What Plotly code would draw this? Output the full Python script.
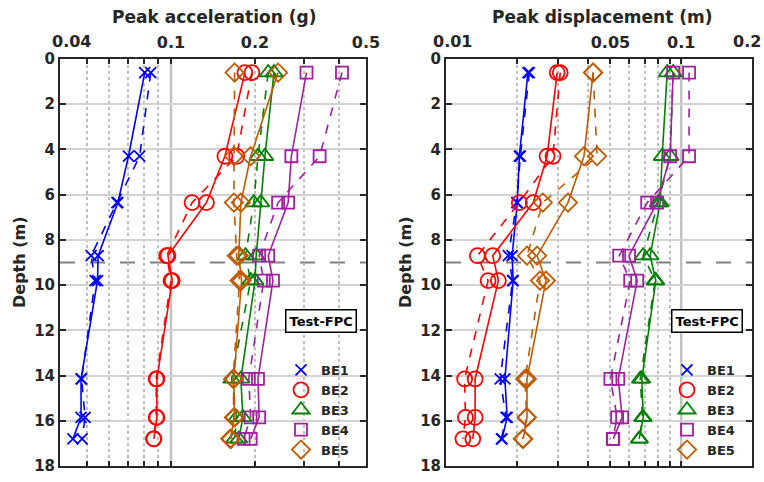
import math
import plotly.graph_objects as go

depth = [0.6, 4.3, 6.35, 8.7, 9.8, 14.15, 15.85, 16.8]
names = ["BE1", "BE2", "BE3", "BE4", "BE5"]

# Peak acceleration (g): solid / dashed for each BE
pga_solid = {
    "BE1": [0.0805, 0.0704, 0.0645, 0.0548, 0.0545, 0.0476, 0.0476, 0.0445],
    "BE2": [0.184, 0.156, 0.134, 0.0975, 0.101, 0.089, 0.089, 0.0868],
    "BE3": [0.234, 0.217, 0.21, 0.202, 0.2, 0.178, 0.181, 0.175],
    "BE4": [0.306, 0.27, 0.263, 0.223, 0.232, 0.205, 0.207, 0.193],
    "BE5": [0.242, 0.193, 0.178, 0.175, 0.179, 0.168, 0.169, 0.163],
}
pga_dashed = {
    "BE1": [0.0846, 0.0772, 0.064, 0.0517, 0.0535, 0.0478, 0.0492, 0.048],
    "BE2": [0.195, 0.172, 0.119, 0.0965, 0.1, 0.0885, 0.0885, 0.0866],
    "BE3": [0.223, 0.205, 0.198, 0.185, 0.193, 0.165, 0.172, 0.169],
    "BE4": [0.41, 0.341, 0.242, 0.207, 0.215, 0.19, 0.193, 0.182],
    "BE5": [0.169, 0.168, 0.168, 0.172, 0.176, 0.167, 0.168, 0.164],
}
# Peak displacement (m)
pgd_solid = {
    "BE1": [0.0223, 0.0205, 0.0201, 0.0191, 0.0193, 0.0178, 0.0182, 0.0173],
    "BE2": [0.0297, 0.0269, 0.0235, 0.0158, 0.0167, 0.0133, 0.0133, 0.013],
    "BE3": [0.0872, 0.083, 0.0814, 0.0738, 0.078, 0.068, 0.069, 0.0663],
    "BE4": [0.0924, 0.0898, 0.079, 0.06, 0.065, 0.054, 0.0561, 0.0514],
    "BE5": [0.0422, 0.0386, 0.033, 0.0244, 0.0266, 0.0221, 0.0221, 0.0213],
}
pgd_dashed = {
    "BE1": [0.0226, 0.0207, 0.0200, 0.0184, 0.0192, 0.0170, 0.0180, 0.0172],
    "BE2": [0.0306, 0.0285, 0.0205, 0.0136, 0.0151, 0.012, 0.0121, 0.0118],
    "BE3": [0.0924, 0.0898, 0.0798, 0.0689, 0.0775, 0.067, 0.0685, 0.0665],
    "BE4": [0.108, 0.108, 0.0717, 0.0545, 0.0607, 0.05, 0.0534, 0.0512],
    "BE5": [0.0422, 0.0439, 0.0258, 0.0221, 0.0251, 0.0217, 0.0220, 0.0212],
}

acc_ticks = [0.04, 0.05, 0.06, 0.07, 0.08, 0.09, 0.1, 0.2, 0.3, 0.4, 0.5]
acc_labels = ["", "", "", "", "", "", "0.1", "0.2", "", "", "0.5"]
disp_ticks = [0.01, 0.02, 0.03, 0.04, 0.05, 0.06, 0.07, 0.08, 0.09, 0.1, 0.2]
disp_labels = ["", "", "", "", "0.05", "", "", "", "", "0.1", ""]
# edge tick labels, drawn slightly inside the frame as in the reference
edge_labels = [("0.04", 71), ("0.01", 452), ("0.2", 747)]
depth_ticks = [0, 2, 4, 6, 8, 10, 12, 14, 16, 18]

colors = {"BE1": "#0000ff", "BE2": "#ff0000", "BE3": "#008000",
          "BE4": "#a020a0", "BE5": "#c05a00"}
symbols = {"BE1": "x-thin-open", "BE2": "circle-open", "BE3": "triangle-up-open",
           "BE4": "square-open", "BE5": "diamond-open"}
msize = {"BE1": 11, "BE2": 15, "BE3": 15, "BE4": 12, "BE5": 14}

FONT = "DejaVu Sans"
DARK = "#262626"

fig = go.Figure()

def add_series(xref, yref, solid, dashed, legend):
    for n in names:
        for data, dash in ((solid, "solid"), (dashed, "dash")):
            fig.add_trace(go.Scatter(
                x=data[n], y=depth, xaxis=xref, yaxis=yref,
                mode="lines+markers", showlegend=False,
                line=dict(color=colors[n], width=1.6, dash=dash),
                marker=dict(symbol=symbols[n], size=msize[n], color=colors[n],
                            line=dict(color=colors[n], width=1.8)),
            ))
    for n in names:
        fig.add_trace(go.Scatter(
            x=[None], y=[None], xaxis=xref, yaxis=yref, mode="markers",
            name=n, legend=legend, showlegend=True,
            marker=dict(symbol=symbols[n], size=msize[n], color=colors[n],
                        line=dict(color=colors[n], width=1.8)),
        ))

add_series("x", "y", pga_solid, pga_dashed, "legend")
add_series("x2", "y2", pgd_solid, pgd_dashed, "legend2")

W, H = 764, 482
xd1 = [60 / W, 366 / W]
xd2 = [446 / W, 752 / W]
yd = [1 - 466 / H, 1 - 59 / H]

def xaxis(dom, rng, tv, tt, anchor):
    return dict(domain=dom, type="log", range=rng, side="top", anchor=anchor,
                tickvals=tv, ticktext=tt, ticks="inside", ticklen=5, tickwidth=1.5,
                tickcolor=DARK, showline=True, linecolor=DARK, linewidth=2,
                mirror="ticks", showgrid=True, gridcolor="#bfbfbf", gridwidth=1.5,
                griddash="dot", zeroline=False, automargin=False,
                ticklabelstandoff=3,
                tickfont=dict(family=FONT, size=16, color=DARK, weight="bold"))

def yaxis(anchor):
    return dict(domain=yd, range=[18, 0], tickvals=depth_ticks, anchor=anchor,
                ticks="inside", ticklen=6, tickwidth=2, tickcolor=DARK,
                showline=True, linecolor=DARK, linewidth=2, mirror="ticks",
                showgrid=True, gridcolor="#d2d2d2", gridwidth=2, zeroline=False,
                automargin=False,
                tickfont=dict(family=FONT, size=15, color=DARK, weight="bold"))

def legend(xpx):
    return dict(x=xpx / W, y=1 - 355 / H, xanchor="left", yanchor="top",
                bgcolor="rgba(0,0,0,0)", borderwidth=0,
                font=dict(family=FONT, size=13, color=DARK, weight="bold"),
                itemwidth=30, tracegroupgap=0)

fig.update_layout(
    width=W, height=H, margin=dict(l=0, r=0, t=0, b=0),
    paper_bgcolor="white", plot_bgcolor="white",
    xaxis=xaxis(xd1, [math.log10(0.04), math.log10(0.5)], acc_ticks, acc_labels, "y"),
    xaxis2=xaxis(xd2, [math.log10(0.01), math.log10(0.2)], disp_ticks, disp_labels, "y2"),
    yaxis=yaxis("x"),
    yaxis2=yaxis("x2"),
    legend=legend(281),
    legend2=legend(667),
)

# solid major gridline at 0.1 and the 9 m dashed reference line
for xr, yr in (("x", "y"), ("x2", "y2")):
    fig.add_shape(type="line", xref=xr, yref=yr + " domain", x0=0.1, x1=0.1, y0=0, y1=1,
                  line=dict(color="#c4c4c4", width=2.5), layer="below")
    fig.add_shape(type="line", xref=xr + " domain", yref=yr, x0=0, x1=1, y0=9, y1=9,
                  line=dict(color="#808080", width=2, dash="longdash"), layer="below")
    fig.add_annotation(xref=xr + " domain", yref=yr, x=0.853, y=11.6, text="Test-FPC",
                       showarrow=False, xanchor="center", yanchor="middle",
                       bgcolor="white", bordercolor="black",
                       borderwidth=1.5, borderpad=3,
                       font=dict(family=FONT, size=13, color="black", weight="bold"))

for txt, px in edge_labels:
    fig.add_annotation(xref="paper", yref="paper", x=px / W, y=1 - 41.5 / H,
                       text=txt, showarrow=False, xanchor="center", yanchor="middle",
                       borderpad=0,
                       font=dict(family=FONT, size=16, color=DARK, weight="bold"))

# axis titles
for cx, txt in ((214, "Peak acceleration (g)"), (602, "Peak displacement (m)")):
    fig.add_annotation(xref="paper", yref="paper", x=cx / W, y=1 - 17 / H,
                       text=txt, showarrow=False, xanchor="center", yanchor="middle",
                       font=dict(family=FONT, size=17, color=DARK, weight="bold"))
for cx in (19, 405):
    fig.add_annotation(xref="paper", yref="paper", x=cx / W, y=1 - 262 / H,
                       text="Depth (m)", showarrow=False, textangle=-90,
                       xanchor="center", yanchor="middle",
                       font=dict(family=FONT, size=16, color=DARK, weight="bold"))

fig.write_html("out.html")
